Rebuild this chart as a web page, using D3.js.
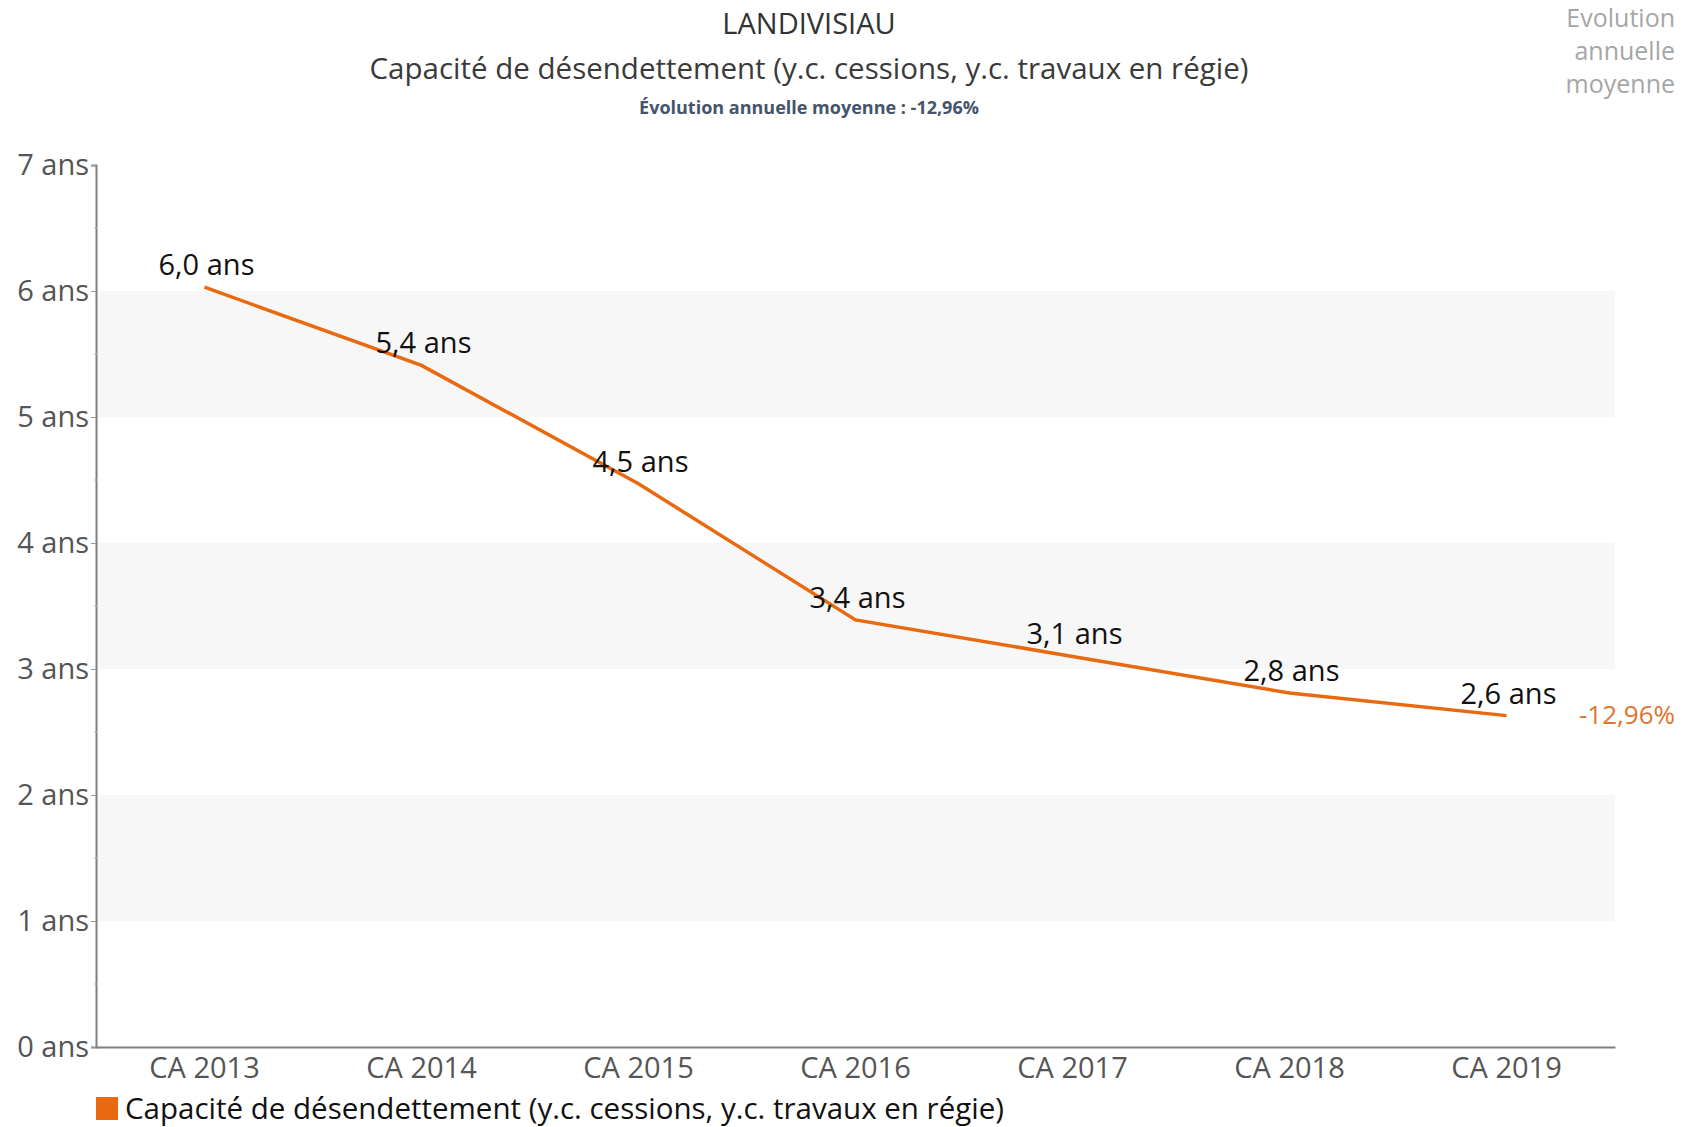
<!DOCTYPE html>
<html>
<head>
<meta charset="utf-8">
<script src="https://cdn.jsdelivr.net/npm/d3@7"></script>
<style>
  body { margin: 0; background: #fff; }
  svg { font-family: "Open Sans", sans-serif; }
</style>
</head>
<body>
<div id="chart"></div>
<script>
// data
var categories = ["CA 2013", "CA 2014", "CA 2015", "CA 2016", "CA 2017", "CA 2018", "CA 2019"];
var values = [6.03, 5.41, 4.47, 3.39, 3.10, 2.81, 2.63];
var valueLabels = ["6,0 ans", "5,4 ans", "4,5 ans", "3,4 ans", "3,1 ans", "2,8 ans", "2,6 ans"];
var yTicks = [0, 1, 2, 3, 4, 5, 6, 7];
var bands = [[1, 2], [3, 4], [5, 6]];
var evolution = "-12,96%";

var width = 1683;
var height = 1127;
var orange = "#e8690f";

var svg = d3.select("#chart")
    .append("svg")
    .attr("width", width)
    .attr("height", height);

var x = d3.scaleBand()
    .domain(categories)
    .range([96, 1615]);

var y = d3.scaleLinear()
    .domain([0, 7])
    .range([1047, 165]);

// shaded bands
svg.selectAll("rect.band")
    .data(bands)
    .enter()
    .append("rect")
    .attr("class", "band")
    .attr("x", 96)
    .attr("width", 1615 - 96)
    .attr("y", function(d) { return y(d[1]); })
    .attr("height", function(d) { return y(d[0]) - y(d[1]); })
    .style("fill", "#f7f7f7");

// y axis
var yAxis = svg.append("g")
    .attr("transform", "translate(96,0)")
    .call(d3.axisLeft(y).tickValues(yTicks).tickSize(5).tickPadding(2)
        .tickFormat(function(d) { return d + " ans"; }));
yAxis.select(".domain").style("stroke", "#7f7f7f").style("stroke-width", 2);
yAxis.selectAll(".tick line").style("stroke", "#999");
yAxis.selectAll(".tick text")
    .style("font-size", "29px")
    .style("fill", "#555")
    .style("font-family", "Open Sans, sans-serif");

// small minor marks
svg.selectAll("line.minor")
    .data(d3.range(0.5, 7, 1))
    .enter()
    .append("line")
    .attr("class", "minor")
    .attr("x1", 94)
    .attr("x2", 97)
    .attr("y1", function(d) { return y(d); })
    .attr("y2", function(d) { return y(d); })
    .style("stroke", "#f0a0a0");

// x axis
var xAxis = svg.append("g")
    .attr("transform", "translate(0,1047)")
    .call(d3.axisBottom(x).tickSize(0).tickPadding(10).tickSizeOuter(0));
xAxis.select(".domain").style("stroke", "#7f7f7f").style("stroke-width", 2);
xAxis.selectAll(".tick text")
    .style("font-size", "29px")
    .style("fill", "#555")
    .style("font-family", "Open Sans, sans-serif");

// line
var line = d3.line()
    .x(function(d, i) { return x(categories[i]) + x.bandwidth() / 2; })
    .y(function(d) { return y(d); });

svg.append("path")
    .datum(values)
    .attr("d", line)
    .style("fill", "none")
    .style("stroke", orange)
    .style("stroke-width", 3.5);

// value labels
svg.selectAll("text.val")
    .data(values)
    .enter()
    .append("text")
    .attr("class", "val")
    .attr("x", function(d, i) { return x(categories[i]) + x.bandwidth() / 2 + 2; })
    .attr("y", function(d) { return y(d) - 12; })
    .attr("text-anchor", "middle")
    .style("font-size", "29px")
    .style("fill", "#111")
    .text(function(d, i) { return valueLabels[i]; });

// end label
svg.append("text")
    .attr("x", 1675)
    .attr("y", y(values[values.length - 1]) + 8)
    .attr("text-anchor", "end")
    .style("font-size", "26px")
    .style("fill", "#e0742c")
    .text(evolution);

// titles
svg.append("text")
    .attr("x", 809)
    .attr("y", 34)
    .attr("text-anchor", "middle")
    .style("font-size", "29px")
    .style("fill", "#333")
    .text("LANDIVISIAU");

svg.append("text")
    .attr("x", 809)
    .attr("y", 79)
    .attr("text-anchor", "middle")
    .style("font-size", "29.5px")
    .style("fill", "#3a3a3a")
    .text("Capacité de désendettement (y.c. cessions, y.c. travaux en régie)");

svg.append("text")
    .attr("x", 809)
    .attr("y", 114)
    .attr("text-anchor", "middle")
    .style("font-size", "18px")
    .style("font-weight", "bold")
    .style("fill", "#44546a")
    .text("Évolution annuelle moyenne : " + evolution);

svg.selectAll("text.corner")
    .data(["Evolution", "annuelle", "moyenne"])
    .enter()
    .append("text")
    .attr("class", "corner")
    .attr("x", 1675)
    .attr("y", function(d, i) { return 27 + i * 33; })
    .attr("text-anchor", "end")
    .style("font-size", "25px")
    .style("fill", "#a6a6a6")
    .text(function(d) { return d; });

// legend
svg.append("rect")
    .attr("x", 96)
    .attr("y", 1097)
    .attr("width", 22)
    .attr("height", 23)
    .style("fill", orange);

svg.append("text")
    .attr("x", 125)
    .attr("y", 1119)
    .style("font-size", "29.5px")
    .style("fill", "#111")
    .text("Capacité de désendettement (y.c. cessions, y.c. travaux en régie)");
</script>
</body>
</html>
